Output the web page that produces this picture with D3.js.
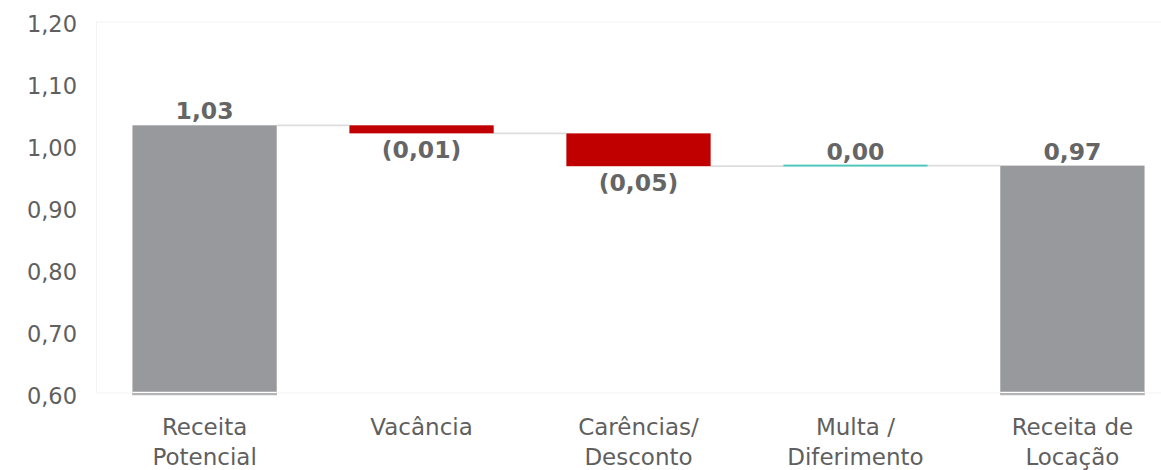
<!DOCTYPE html>
<html>
<head>
<meta charset="utf-8">
<script src="https://cdn.jsdelivr.net/npm/d3@7"></script>
<style>
  html, body { margin: 0; padding: 0; background: #fff; }
  svg { display: block; font-family: "DejaVu Sans", Verdana, sans-serif; }
</style>
</head>
<body>
<svg id="chart" width="1161" height="470"></svg>
<script>
// Waterfall: potential revenue down to realised rental revenue
const categories = [
  ["Receita", "Potencial"],
  ["Vacância"],
  ["Carências/", "Desconto"],
  ["Multa /", "Diferimento"],
  ["Receita de", "Locação"]
];
const startValue = 1.035;                  // Receita Potencial
const deltas = [-0.013, -0.053, 0.001];    // Vacância, Carências/Desconto, Multa/Diferimento
const yTicks = [0.6, 0.7, 0.8, 0.9, 1.0, 1.1, 1.2];

const fmt = v => d3.format(".2f")(v).replace(".", ",");

// build the steps of the waterfall
const steps = [];
let running = startValue;
steps.push({ cat: categories[0], kind: "total", from: 0.6, to: startValue, value: startValue });
deltas.forEach((d, i) => {
  const from = running;
  running = running + d;
  steps.push({ cat: categories[i + 1], kind: d < 0 ? "neg" : "pos", from, to: running, value: d });
});
steps.push({ cat: categories[4], kind: "total", from: 0.6, to: running, value: running });

const svg = d3.select("#chart");
const W = 1161, H = 470;
const plot = { left: 96, right: 1181, top: 23, bottom: 395 };

const x = d3.scaleBand()
  .domain(d3.range(steps.length))
  .range([plot.left, plot.right])
  .paddingInner(0.335)
  .paddingOuter(0.168);

const y = d3.scaleLinear().domain([0.6, 1.2]).range([plot.bottom, plot.top]);

const colors = { total: "#98999d", neg: "#c00000", pos: "#4fc7bb" };
const textColor = "#656565";
const axisColor = "#5f5f5f";

// faint plot-area frame
svg.append("rect")
  .attr("x", plot.left + 0.5).attr("y", plot.top - 1)
  .attr("width", W - plot.left + 10).attr("height", plot.bottom - 2 - plot.top + 1)
  .attr("fill", "none").attr("stroke", "#f3f3f3").attr("stroke-width", 1);

// y axis labels (no line, no ticks)
const yAxis = d3.axisLeft(y).tickValues(yTicks).tickSize(0).tickPadding(0)
  .tickFormat(d => fmt(d));
const yg = svg.append("g").attr("transform", `translate(77,0)`).call(yAxis);
yg.select(".domain").remove();
yg.selectAll("text")
  .attr("fill", axisColor)
  .style("font-size", "22.5px")
  .style("font-family", "'DejaVu Sans', Verdana, sans-serif")
  .attr("dy", "0.36em");

// connectors between consecutive bars
for (let i = 0; i < steps.length - 1; i++) {
  const level = steps[i].to;
  svg.append("line")
    .attr("x1", x(i) + x.bandwidth()).attr("x2", x(i + 1))
    .attr("y1", y(level)).attr("y2", y(level))
    .attr("stroke", "#dcdcdc").attr("stroke-width", 1.75);
}

// bars
steps.forEach((s, i) => {
  const top = y(Math.max(s.from, s.to));
  const bot = y(Math.min(s.from, s.to));
  const h = Math.max(bot - top, 2);
  svg.append("rect")
    .attr("x", x(i)).attr("width", x.bandwidth())
    .attr("y", s.kind === "pos" ? top - 1 : top).attr("height", h)
    .attr("fill", colors[s.kind]);
  if (s.kind === "total") {
    // thin separation above the baseline
    svg.append("line")
      .attr("x1", x(i)).attr("x2", x(i) + x.bandwidth())
      .attr("y1", y(0.6) - 2.5).attr("y2", y(0.6) - 2.5)
      .attr("stroke", "#ffffff").attr("stroke-width", 1.5);
    svg.append("line")
      .attr("x1", x(i)).attr("x2", x(i) + x.bandwidth())
      .attr("y1", y(0.6) - 0.5).attr("y2", y(0.6) - 0.5)
      .attr("stroke", "#b5b6b9").attr("stroke-width", 1.5);
  }
});

// value labels
steps.forEach((s, i) => {
  const cx = x(i) + x.bandwidth() / 2;
  let txt, yy;
  if (s.kind === "neg") {
    txt = "(" + fmt(Math.abs(s.value)) + ")";
    yy = y(s.to) + 25;
  } else {
    txt = fmt(s.value);
    yy = y(Math.max(s.from, s.to)) - 6;
  }
  svg.append("text")
    .attr("x", cx).attr("y", yy)
    .attr("text-anchor", "middle")
    .attr("fill", textColor)
    .style("font-size", "23.5px").style("font-weight", "bold")
    .text(txt);
});

// category labels
steps.forEach((s, i) => {
  const cx = x(i) + x.bandwidth() / 2;
  const t = svg.append("text")
    .attr("x", cx).attr("y", 435)
    .attr("text-anchor", "middle")
    .attr("fill", axisColor)
    .style("font-size", "23px");
  s.cat.forEach((line, k) => {
    t.append("tspan").attr("x", cx).attr("dy", k === 0 ? 0 : 30).text(line);
  });
});
</script>
</body>
</html>
